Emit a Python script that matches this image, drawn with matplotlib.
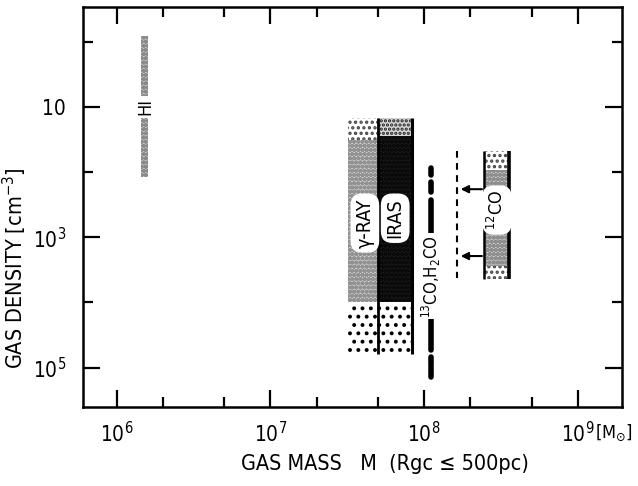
import matplotlib
matplotlib.use("Agg")
import matplotlib.pyplot as plt
from matplotlib import font_manager as fm
import numpy as np

# ---- pick a condensed sans font if one is installed ----
def _is_cond(f):
    st = f.stretch
    if isinstance(st, str):
        return st in ('condensed', 'semi-condensed', 'extra-condensed', 'ultra-condensed')
    return st <= 87

cond = [f for f in fm.fontManager.ttflist
        if (_is_cond(f) or 'Narrow' in f.name or 'Condensed' in f.name)
        and f.style == 'normal' and f.weight in (400, 'normal', 'regular')
        and 'Serif' not in f.name and 'Mono' not in f.name]
if cond:
    pref = sorted(cond, key=lambda f: (0 if 'Liberation' in f.name else 1 if 'DejaVu' in f.name else 2))[0]
    FONT = pref.name
    STRETCH = pref.stretch if isinstance(pref.stretch, str) else 'condensed'
    SCALE = 1.0
else:
    FONT = 'DejaVu Sans'
    STRETCH = 'normal'
    SCALE = 0.85

plt.rcParams['font.family'] = [FONT, 'DejaVu Sans']
plt.rcParams['font.stretch'] = STRETCH
plt.rcParams['mathtext.fontset'] = 'custom'
plt.rcParams['mathtext.rm'] = f'{FONT}:stretch={STRETCH}'
plt.rcParams['mathtext.it'] = f'{FONT}:stretch={STRETCH}'
plt.rcParams['mathtext.sf'] = f'{FONT}:stretch={STRETCH}'
plt.rcParams['hatch.linewidth'] = 1.6

# ---------------- data (mass in Msun, density in cm^-3) ----------------
hi_mass = [1.44e6, 1.61e6]
hi_dens = [0.82, 120.0]

gamma_mass = [3.2e7, 5.0e7]
iras_mass = [5.0e7, 8.3e7]
bar_dens_edges = [15.0, 28.0, 1.0e4, 6.2e4]   # top sparse | middle | bottom sparse

co13_mass = 1.11e8
co13_segments = [(87.7, 112.0), (144.0, 204.0), (271.0, 1035.0),
                 (14550.0, 53700.0), (68400.0, 93300.0), (1.0e5, 1.38e5)]

co12_mass = [2.47e8, 3.57e8]
co12_dens_edges = [48.0, 94.0, 2780.0, 4400.0]

limit_mass = 1.63e8
limit_dens = [47.0, 4270.0]
arrow_from = 2.38e8
arrow_to = 1.73e8
arrow_dens = [184.0, 1950.0]

labels = {
    'HI': (1.53e6, 10.0),
    'γ-RAY': (4.12e7, 608.0),
    'IRAS': (6.49e7, 513.0),
    '$^{12}$CO': (2.98e8, 385.0),
    '$^{13}$CO,H$_2$CO': (1.11e8, 3960.0),
}

xticks = [1e6, 1e7, 1e8, 1e9]
xticklabels = ['$10^6$', '$10^7$', '$10^8$', '$10^9$']
xminor = [2e6, 5e6, 2e7, 5e7, 2e8, 5e8]
yticks = [1e1, 1e3, 1e5]
yticklabels = ['10', '$10^3$', '$10^5$']
yminor = [1e0, 1e2, 1e4]

# ---------------- figure ----------------
fig = plt.figure(figsize=(6.38, 4.86), dpi=100)
ax = fig.add_axes([0.1296, 0.1626, 0.8449, 0.824])
ax.set_xscale('log')
ax.set_yscale('log')


def block(xr, y0, y1, fc, hatch=None, hc='black'):
    ax.fill_between(xr, y0, y1, facecolor=fc, edgecolor=hc if hatch else 'none',
                    hatch=hatch, linewidth=0, zorder=2)


# HI
block(hi_mass, hi_dens[0], hi_dens[1], '#d0d0d0', hatch='oooo', hc='#8a8a8a')

# gamma-ray bar
e = bar_dens_edges
block(gamma_mass, e[0], e[1] + 4, 'white', hatch='...', hc='#444444')
block(gamma_mass, e[1] + 4, e[2], '#d4d4d4', hatch='oooo', hc='#929292')
block(gamma_mass, e[2], e[3], 'white', hatch='..', hc='black')
# IRAS bar
block(iras_mass, e[0], e[1], '#d8d8d8', hatch='....', hc='#222222')
block(iras_mass, e[1], e[2], '#1e1e1e', hatch='oooo', hc='#0a0a0a')
block(iras_mass, e[2], e[3], 'white', hatch='..', hc='black')
ax.vlines([iras_mass[0]], e[0], e[3], color='black', lw=2.0, zorder=3)
ax.vlines([iras_mass[1]], e[0], e[3], color='black', lw=2.2, zorder=3)

# 12CO bar
c = co12_dens_edges
block(co12_mass, c[0], c[1], 'white', hatch='...', hc='#444444')
block(co12_mass, c[1], c[2], '#d0d0d0', hatch='oooo', hc='#8e8e8e')
block(co12_mass, c[2], c[3], 'white', hatch='...', hc='#444444')
ax.vlines([co12_mass[0]], c[0], c[3], color='black', lw=1.8, zorder=3)
ax.vlines([co12_mass[1]], c[0], c[3], color='black', lw=2.6, zorder=3)

# 13CO,H2CO line
for y0, y1 in co13_segments:
    ax.plot([co13_mass, co13_mass], [y0, y1], color='black', lw=4.0,
            solid_capstyle='round', zorder=3)

# dashed limit + arrows
ax.plot([limit_mass, limit_mass], limit_dens, color='black', lw=1.5,
        ls=(0, (3.2, 2.6)), zorder=3)
for yd in arrow_dens:
    ax.annotate('', xy=(arrow_to, yd), xytext=(arrow_from, yd),
                arrowprops=dict(arrowstyle='-|>', color='black', lw=1.5,
                                mutation_scale=11, shrinkA=0, shrinkB=0),
                zorder=4)

# labels
box = dict(boxstyle='round,pad=0.25,rounding_size=0.6', fc='white', ec='none')
ax.text(*labels['HI'], 'HI', rotation=90, ha='center', va='center', fontsize=13 * SCALE,
        bbox=dict(boxstyle='square,pad=0.15', fc='white', ec='none'), zorder=5)
ax.text(*labels['γ-RAY'], 'γ-RAY', rotation=90, ha='center', va='center',
        fontsize=14 * SCALE, bbox=box, zorder=5)
ax.text(*labels['IRAS'], 'IRAS', rotation=90, ha='center', va='center',
        fontsize=14 * SCALE, bbox=box, zorder=5)
ax.text(*labels['$^{12}$CO'], '$^{12}$CO', rotation=90, ha='center', va='center',
        fontsize=13 * SCALE, bbox=box, zorder=5)
ax.text(*labels['$^{13}$CO,H$_2$CO'], '$^{13}$CO,H$_2$CO', rotation=90,
        ha='center', va='center', fontsize=12 * SCALE,
        bbox=dict(boxstyle='square,pad=0.1', fc='white', ec='none'), zorder=5)

# axes styling
for s in ax.spines.values():
    s.set_linewidth(1.8)
ax.set_xticks(xticks)
ax.set_xticklabels(xticklabels)
ax.set_xticks(xminor, minor=True)
ax.set_xticklabels([], minor=True)
ax.set_yticks(yticks)
ax.set_yticklabels(yticklabels)
ax.set_yticks(yminor, minor=True)
ax.set_yticklabels([], minor=True)
ax.set_xlim(10**5.779, 10**9.286)
ax.set_ylim(10**5.605, 10**-0.537)
ax.tick_params(which='both', direction='in', top=True, right=True, width=1.6)
ax.tick_params(which='major', length=12, labelsize=15 * SCALE)
ax.tick_params(which='minor', length=7)
ax.tick_params(axis='x', which='major', pad=10)
ax.tick_params(axis='y', which='major', pad=12)

ax.set_xlabel('GAS MASS   M  (Rgc ≤ 500pc)', fontsize=15.5 * SCALE)
ax.xaxis.set_label_coords(0.561, -0.118)
ax.set_ylabel('GAS DENSITY [cm$^{-3}$]', fontsize=15.5 * SCALE)
ax.yaxis.set_label_coords(-0.1, 0.347)

fig.text(595 / 638, 1 - 433 / 486, '[M$_{\\odot}$]', ha='left', va='center',
         fontsize=13 * SCALE)

fig.savefig('out.png', dpi=100)
